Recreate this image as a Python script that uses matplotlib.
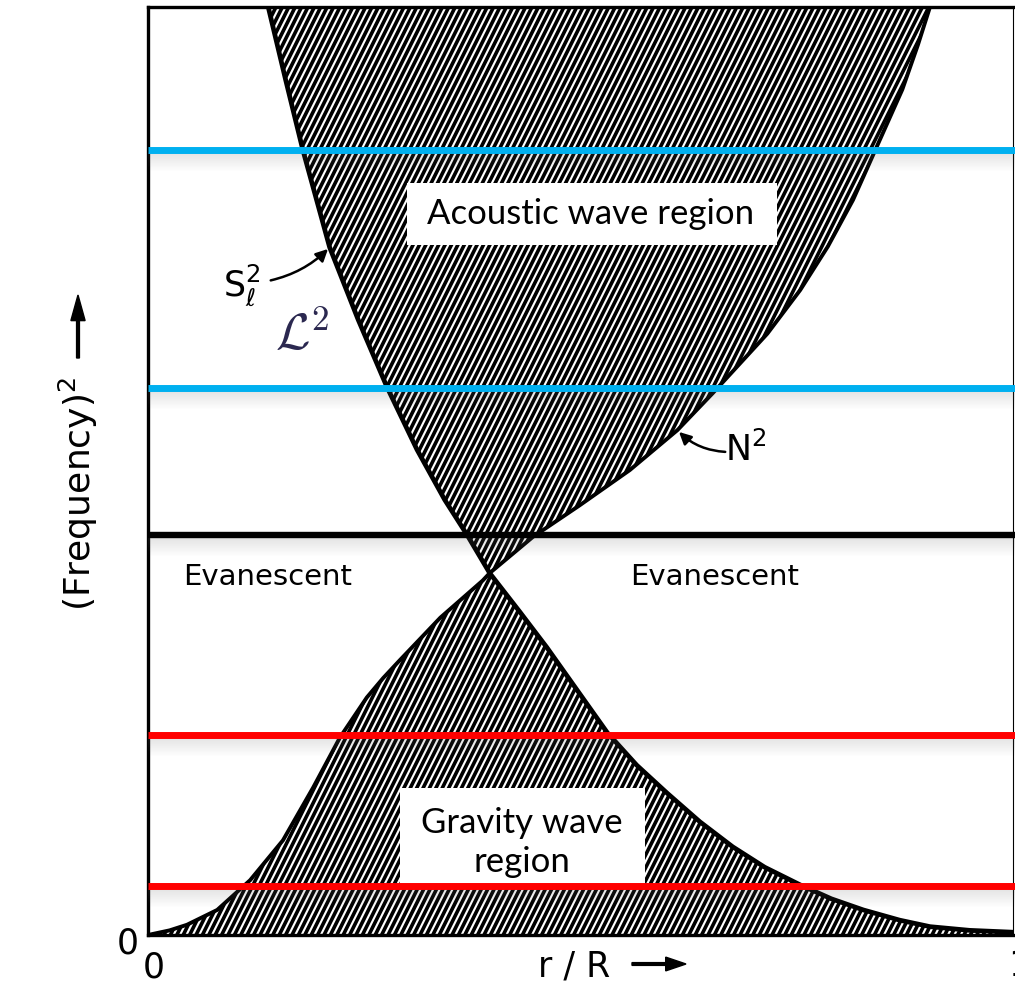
import numpy as np
import matplotlib
matplotlib.use("Agg")
import matplotlib.pyplot as plt
from matplotlib.patches import Polygon, Rectangle, FancyArrow
from matplotlib.collections import LineCollection

# -----------------------------
# DATA (r/R, normalised frequency^2)
# -----------------------------
# Lamb frequency S_l^2, falling outwards
s_r = [0.139, 0.159, 0.179, 0.210, 0.243, 0.276, 0.311, 0.343, 0.369,
       0.395, 0.430, 0.461, 0.496, 0.531, 0.565, 0.600, 0.638, 0.676,
       0.713, 0.754, 0.790, 0.827, 0.869, 0.904, 0.950, 1.000]
s_f = [1.000, 0.922, 0.846, 0.741, 0.663, 0.591, 0.523, 0.469, 0.431,
       0.390, 0.348, 0.310, 0.264, 0.218, 0.183, 0.153, 0.122, 0.095,
       0.073, 0.054, 0.039, 0.027, 0.016, 0.009, 0.005, 0.003]

# buoyancy frequency N^2, rising outwards
n_r = [0.000, 0.025, 0.045, 0.080, 0.118, 0.156, 0.191, 0.222, 0.253,
       0.272, 0.291, 0.338, 0.387, 0.395, 0.445, 0.499, 0.557, 0.612,
       0.653, 0.716, 0.754, 0.786, 0.815, 0.872, 0.890, 0.904]
n_f = [0.000, 0.005, 0.011, 0.027, 0.059, 0.102, 0.159, 0.213, 0.256,
       0.277, 0.296, 0.342, 0.382, 0.390, 0.429, 0.463, 0.501, 0.544,
       0.584, 0.648, 0.695, 0.742, 0.792, 0.911, 0.959, 1.000]

CROSS_S = 9        # index of the crossing point in s_*
CROSS_N = 13       # index of the crossing point in n_*

# mode frequencies drawn as horizontal lines
acoustic_levels = [0.846, 0.589]
gravity_levels = [0.216, 0.053]
cross_level = 0.431

BLUE = "#00B0F0"
RED = "#FF0000"

W, H = 1015, 985
X0, Y0, AW, AH = 148, 935, 865, 928   # axes frame in pixels


def fig_xy(px, py):
    return px / W, 1 - py / H


def ax_xy(px, py):
    return (px - X0) / AW, (Y0 - py) / AH


plt.rcParams["font.family"] = ["DejaVu Sans"]

fig = plt.figure(figsize=(W / 100, H / 100), dpi=100)
ax = fig.add_axes([X0 / W, (H - Y0) / H, AW / W, AH / H])
ax.set_xlim(0, 1)
ax.set_ylim(0, 1)
ax.set_xticks([])
ax.set_yticks([])
for side in ["left", "top", "bottom"]:
    ax.spines[side].set_linewidth(2.4)
ax.spines["right"].set_linewidth(0.8)

# -----------------------------
# shaded regions
# -----------------------------
top_pts = list(zip(s_r[:CROSS_S + 1][::-1], s_f[:CROSS_S + 1][::-1])) + \
    list(zip(n_r[CROSS_N:][::-1], n_f[CROSS_N:][::-1]))
bot_pts = list(zip(n_r[:CROSS_N + 1], n_f[:CROSS_N + 1])) + \
    list(zip(s_r[CROSS_S:], s_f[CROSS_S:])) + [(1.0, 0.0)]

slope = 2.0 * AW / AH          # steep diagonal stripes
spacing = 6.4 / AW
offsets = np.arange(-1.0 / slope - spacing, 1.0 + spacing, spacing)
segs = [[(c, 0.0), (c + 1.0 / slope, 1.0)] for c in offsets]

for pts in (top_pts, bot_pts):
    poly = Polygon(pts, closed=True, facecolor="white", edgecolor="none", zorder=1)
    ax.add_patch(poly)
    lc = LineCollection(segs, colors="black", linewidths=2.6, zorder=2)
    lc.set_clip_path(poly)
    ax.add_collection(lc)

ax.plot(s_r, s_f, color="black", lw=3.4, zorder=3, solid_joinstyle="round")
ax.plot(n_r, n_f, color="black", lw=2.8, zorder=3, solid_joinstyle="round")

# -----------------------------
# text boxes
# -----------------------------
ax.add_patch(Rectangle(ax_xy(407, 245), 370 / AW, 62 / AH,
                       facecolor="white", edgecolor="none", zorder=4))
ax.text(*ax_xy(591, 214), "Acoustic wave region",
        family="Lato", fontsize=25, ha="center", va="center", zorder=5)

ax.add_patch(Rectangle(ax_xy(400, 886), 245 / AW, 98 / AH,
                       facecolor="white", edgecolor="none", zorder=4))
ax.text(*ax_xy(522, 823), "Gravity wave",
        family="Lato", fontsize=25, ha="center", va="center", zorder=5)
ax.text(*ax_xy(522, 862), "region",
        family="Lato", fontsize=25, ha="center", va="center", zorder=5)


# -----------------------------
# horizontal frequency lines with soft drop shadow
# -----------------------------
def level_line(y, color, lw):
    for i in range(18):
        dy = (3 + i) / AH
        ax.plot([0, 1.01], [y - dy, y - dy], color="0.4",
                alpha=0.11 * (1 - i / 18), lw=1.2, zorder=6,
                clip_on=False, solid_capstyle="butt")
    ax.plot([0, 1.01], [y, y], color=color, lw=lw,
            zorder=7, clip_on=False, solid_capstyle="butt")


for y in acoustic_levels:
    level_line(y, BLUE, 5.0)
level_line(cross_level, "black", 4.6)
for y in gravity_levels:
    level_line(y, RED, 5.0)

# -----------------------------
# labels
# -----------------------------
ax.text(*ax_xy(268, 577), "Evanescent", fontsize=21,
        ha="center", va="center", zorder=5)
ax.text(*ax_xy(715, 577), "Evanescent", fontsize=21,
        ha="center", va="center", zorder=5)

ax.text(*ax_xy(242, 285), r"$\mathrm{S}_{\ell}^{2}$",
        fontsize=25, ha="center", va="center", zorder=5)
ax.annotate("", xy=ax_xy(330, 247), xytext=ax_xy(268, 281),
            arrowprops=dict(arrowstyle="-|>", color="black", lw=1.8,
                            connectionstyle="arc3,rad=0.15", mutation_scale=18),
            zorder=5)

ax.text(*ax_xy(302, 336), r"$\mathcal{L}^2$",
        math_fontfamily="cm", fontsize=36, color="#2b2850",
        ha="center", va="center", zorder=5)

ax.text(*ax_xy(746, 450), r"$\mathrm{N}^{2}$",
        fontsize=25, ha="center", va="center", zorder=5)
ax.annotate("", xy=ax_xy(677, 430), xytext=ax_xy(728, 452),
            arrowprops=dict(arrowstyle="-|>", color="black", lw=1.8,
                            connectionstyle="arc3,rad=-0.2", mutation_scale=18),
            zorder=5)

# axis captions outside the frame
fig.text(*fig_xy(78, 494), r"(Frequency)$^2$", rotation=90, fontsize=26,
         ha="center", va="center")
fig.patches.append(FancyArrow(
    *fig_xy(78, 358), 0, 63 / H, width=0.0028, head_width=0.014,
    head_length=0.026, length_includes_head=True, color="black",
    transform=fig.transFigure, figure=fig))

fig.text(*fig_xy(574, 966), "r / R", fontsize=25, ha="center", va="center")
fig.patches.append(FancyArrow(
    *fig_xy(632, 964), 54 / W, 0, width=0.0028, head_width=0.014,
    head_length=0.02, length_includes_head=True, color="black",
    transform=fig.transFigure, figure=fig))

fig.text(*fig_xy(128, 943), "0", fontsize=25, ha="center", va="center")
fig.text(*fig_xy(154, 968), "0", fontsize=25, ha="center", va="center")
fig.text(*fig_xy(1019, 966), "1", fontsize=25, ha="center", va="center")

fig.savefig("out.png", dpi=100)
